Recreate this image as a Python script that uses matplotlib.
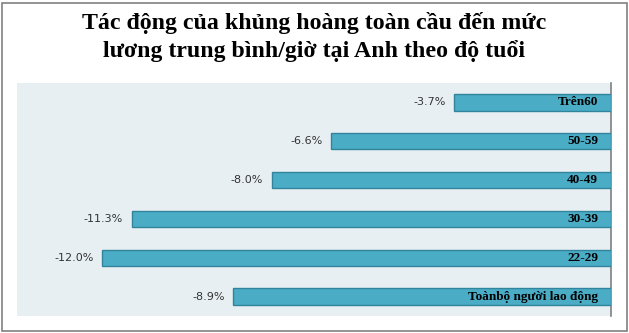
import matplotlib
matplotlib.use("Agg")
import matplotlib.pyplot as plt
from matplotlib.patches import Rectangle

categories = ["Trên60", "50-59", "40-49", "30-39", "22-29", "Toànbộ người lao động"]
values = [-3.7, -6.6, -8.0, -11.3, -12.0, -8.9]
title = "Tác động của khủng hoàng toàn cầu đến mức\nlương trung bình/giờ tại Anh theo độ tuổi"

W, H = 629, 333
fig = plt.figure(figsize=(W / 100, H / 100), dpi=100)
fig.patch.set_facecolor("white")
fig.add_artist(Rectangle((2 / W, 2 / H), 625 / W, 328 / H, transform=fig.transFigure,
                         fill=False, edgecolor="#808080", linewidth=1.2))

ax = fig.add_axes([17 / W, (H - 316) / H, (611 - 17) / W, (316 - 83) / H])
ax.set_facecolor("#E8EFF3")
ypos = list(range(len(categories)))
ax.barh(ypos, values, height=0.42, color="#4BACC6", edgecolor="#31849B", linewidth=1.0, zorder=3)
ax.set_xlim(-14, 0)
ax.set_ylim(len(categories) - 0.5, -0.5)
for s in ["top", "left", "bottom"]:
    ax.spines[s].set_visible(False)
ax.spines["right"].set_color("#808080")
ax.spines["right"].set_linewidth(1.2)
ax.set_xticks([])
ax.set_yticks([])

for y, v, c in zip(ypos, values, categories):
    ax.text(v - 0.2, y, f"{v:.1f}%", ha="right", va="center", fontsize=8,
            family="DejaVu Sans", color="#333333")
    ax.text(-0.3, y, c, ha="right", va="center", fontsize=9.5, fontweight="bold",
            family="Liberation Serif", color="black", zorder=4)

fig.text(0.5, (H - 37) / H, title, ha="center", va="center", fontsize=17.2,
         fontweight="bold", family="Liberation Serif", linespacing=1.4)

fig.savefig("out.png", dpi=100)
